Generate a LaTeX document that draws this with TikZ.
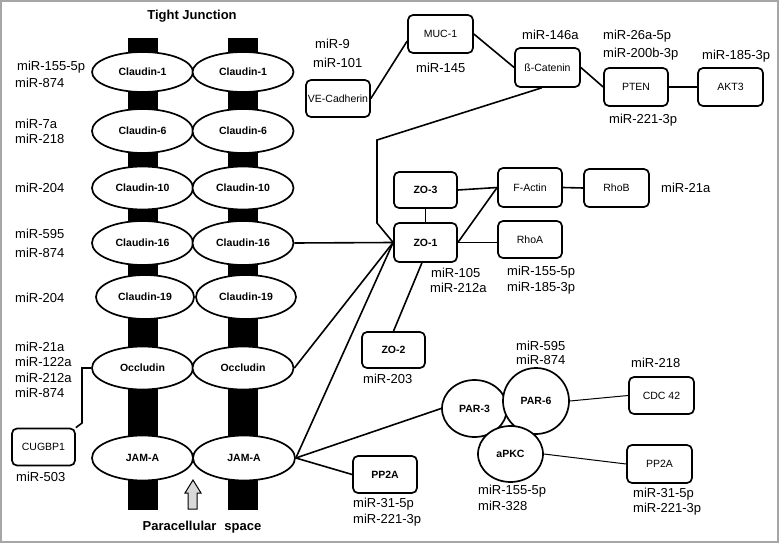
\documentclass[tikz,border=0pt]{standalone}
\usepackage{fontspec}
\setmainfont{Liberation Sans}
\usetikzlibrary{shapes.geometric,calc}
\begin{document}
\begin{tikzpicture}[x=1pt,y=-1pt,
  mir/.style={font=\fontsize{13}{15}\selectfont, inner sep=0pt, text height=9.3pt, text depth=0pt, anchor=west},
  ttl/.style={font=\fontsize{13}{15}\selectfont\bfseries, inner sep=0pt, text height=9.3pt, text depth=0pt},
  bx/.style={draw, rectangle, rounded corners=5pt, line width=1.7pt, fill=white, inner sep=0pt,
    font=\fontsize{10.5}{12}\selectfont, text height=7.5pt, text depth=0pt},
  bbx/.style={bx, font=\fontsize{10.5}{12}\selectfont\bfseries},
  ell/.style={draw, ellipse, line width=1.7pt, fill=white, inner sep=0pt,
    font=\fontsize{10.5}{12}\selectfont\bfseries, text height=7.5pt, text depth=0pt},
  bar/.style={fill=black},
  con/.style={line width=1.6pt},
  thin/.style={line width=1pt}
]
\useasboundingbox (0,0) rectangle (780,543);
\draw[gray!70, line width=1.5pt] (1,1) rectangle (778,542);

% title
\node[ttl] (title) at (192,15) {Tight Junction};
\node[ttl] (para) at (202,526) {Paracellular\,\, space};

% bars
\fill[bar] (128,38) rectangle (158,510);
\fill[bar] (228,38) rectangle (258,510);

% ellipses
\node[ell, minimum width=101pt, minimum height=40pt] (cl1l) at (142.5,72) {Claudin-1};
\node[ell, minimum width=101pt, minimum height=40pt] (cl1r) at (243,72) {Claudin-1};
\node[ell, minimum width=101pt, minimum height=44pt] (cl6l) at (142.5,131) {Claudin-6};
\node[ell, minimum width=101pt, minimum height=44pt] (cl6r) at (243,131) {Claudin-6};
\node[ell, minimum width=101pt, minimum height=43pt] (cl10l) at (142.5,188) {Claudin-10};
\node[ell, minimum width=101pt, minimum height=43pt] (cl10r) at (243,188) {Claudin-10};
\node[ell, minimum width=101pt, minimum height=44pt] (cl16l) at (142.5,243) {Claudin-16};
\node[ell, minimum width=101pt, minimum height=44pt] (cl16r) at (243,243) {Claudin-16};
\node[ell, minimum width=98pt, minimum height=44pt] (cl19l) at (145,297) {Claudin-19};
\node[ell, minimum width=100pt, minimum height=44pt] (cl19r) at (246,297) {Claudin-19};
\node[ell, minimum width=101pt, minimum height=43pt] (occl) at (142.5,368) {Occludin};
\node[ell, minimum width=101pt, minimum height=43pt] (occr) at (243,368) {Occludin};
\node[ell, minimum width=101pt, minimum height=45pt] (jaml) at (142.5,458) {JAM-A};
\node[ell, minimum width=102pt, minimum height=45pt] (jamr) at (244,458) {JAM-A};

% gray arrow
\draw[fill=gray!30, line width=1pt] (188,509) -- (188,493) -- (185,493) -- (193,480) -- (201,493) -- (197,493) -- (197,509) -- cycle;

% left labels
\node[mir] (l1) at (17,66) {miR-155-5p};
\node[mir] (l2) at (15,83) {miR-874};
\node[mir] (l3) at (15,124) {miR-7a};
\node[mir] (l4) at (15,139) {miR-218};
\node[mir] (l5) at (15,188) {miR-204};
\node[mir] (l6) at (15,234) {miR-595};
\node[mir] (l7) at (15,253) {miR-874};
\node[mir] (l8) at (15,298) {miR-204};
\node[mir] (l9) at (15,347) {miR-21a};
\node[mir] (l10) at (15,362) {miR-122a};
\node[mir] (l11) at (15,378) {miR-212a};
\node[mir] (l12) at (15,393) {miR-874};

% CUGBP1
\node[bx, minimum width=63pt, minimum height=37pt] (cug) at (43.5,447) {CUGBP1};
\node[mir] (l13) at (16,477) {miR-503};
\coordinate (c1) at (82,368);
\coordinate (c2) at (82,423);
\draw[con] (occl.west) -- (c1) -- (c2) -- (cug.north east);

% right boxes
\node[bx, minimum width=64pt, minimum height=37pt] (vecad) at (338,98.5) {VE-Cadherin};
\node[bx, minimum width=65pt, minimum height=38pt] (muc) at (440.5,34) {MUC-1};
\node[bx, minimum width=65pt, minimum height=39pt] (bcat) at (547.5,67.5) {ß-Catenin};
\node[bx, minimum width=64pt, minimum height=38pt] (pten) at (636,87) {PTEN};
\node[bx, minimum width=65pt, minimum height=38pt] (akt) at (730.5,87) {AKT3};
\node[bbx, minimum width=63pt, minimum height=36pt] (zo3) at (425.5,190) {ZO-3};
\node[bbx, minimum width=63pt, minimum height=39pt] (zo1) at (425.5,242.5) {ZO-1};
\node[bx, minimum width=64pt, minimum height=39pt] (fact) at (530,187.5) {F-Actin};
\node[bx, minimum width=64pt, minimum height=37pt] (rhoa) at (530,239.5) {RhoA};
\node[bx, minimum width=65pt, minimum height=38pt] (rhob) at (616.5,188) {RhoB};
\node[bbx, minimum width=63pt, minimum height=36pt] (zo2) at (393.5,350) {ZO-2};
\node[bbx, minimum width=64pt, minimum height=37pt] (pp2a1) at (385,474.5) {PP2A};
\node[bx, minimum width=65pt, minimum height=37pt] (cdc) at (661.5,395.5) {CDC 42};
\node[bx, minimum width=65pt, minimum height=38pt] (pp2a2) at (659.5,464) {PP2A};

% PAR complex
\node[ell, minimum width=65pt, minimum height=57pt] (par3) at (474.5,408.5) {PAR-3};
\node[ell, minimum width=66pt, minimum height=66pt] (par6) at (536,401) {PAR-6};
\node[ell, minimum width=65pt, minimum height=56pt] (apkc) at (510.5,454) {aPKC};

% right labels
\node[mir] (r1) at (315,44) {miR-9};
\node[mir] (r2) at (313,63) {miR-101};
\node[mir] (r3) at (416,68) {miR-145};
\node[mir] (r4) at (522,35) {miR-146a};
\node[mir] (r5) at (603,35) {miR-26a-5p};
\node[mir] (r6) at (603,53) {miR-200b-3p};
\node[mir] (r7) at (609,119) {miR-221-3p};
\node[mir] (r8) at (702,55) {miR-185-3p};
\node[mir] (r9) at (661,188) {miR-21a};
\node[mir] (r10) at (431,273) {miR-105};
\node[mir] (r11) at (430,288) {miR-212a};
\node[mir] (r12) at (507,271) {miR-155-5p};
\node[mir] (r13) at (507,287) {miR-185-3p};
\node[mir] (r14) at (363,379) {miR-203};
\node[mir] (r15) at (516,346) {miR-595};
\node[mir] (r16) at (516,360) {miR-874};
\node[mir] (r17) at (631,363) {miR-218};
\node[mir] (r18) at (478,490) {miR-155-5p};
\node[mir] (r19) at (478,506) {miR-328};
\node[mir] (r20) at (353,503) {miR-31-5p};
\node[mir] (r21) at (353,519) {miR-221-3p};
\node[mir] (r22) at (633,493) {miR-31-5p};
\node[mir] (r23) at (633,508) {miR-221-3p};

% connectors
\draw[con] (vecad.east) -- (muc.192);
\draw[con] (muc.east) -- (bcat.west);
\draw[con] (bcat.east) -- (pten.west);
\draw[con] (pten.east) -- (akt.west);
\coordinate (k1) at (377,140);
\coordinate (k2) at (377,223);
\draw[con] (bcat.254) -- (k1) -- (k2) -- (zo1.west);
\draw[con] (cl16r.east) -- (zo1.west);
\draw[con] (occr.east) -- (zo1.west);
\draw[con] (jamr.east) -- (zo1.west);
\draw[con] (jamr.east) -- (par3.west);
\draw[con] (jamr.east) -- (pp2a1.west);
\draw[con] (zo3.south) -- (zo1.north);
\draw[con] (zo3.east) -- (fact.west);
\draw[con] (zo1.east) -- (fact.west);
\draw[con] (zo1.east) -- (rhoa.west |- zo1.east);
\draw[con] (fact.east) -- (rhob.west);
\draw[con] (zo1.260) -- (zo2.north);
\draw[thin] (par6.east) -- (cdc.west);
\draw[thin] (apkc.east) -- (pp2a2.west);
\end{tikzpicture}
\end{document}
